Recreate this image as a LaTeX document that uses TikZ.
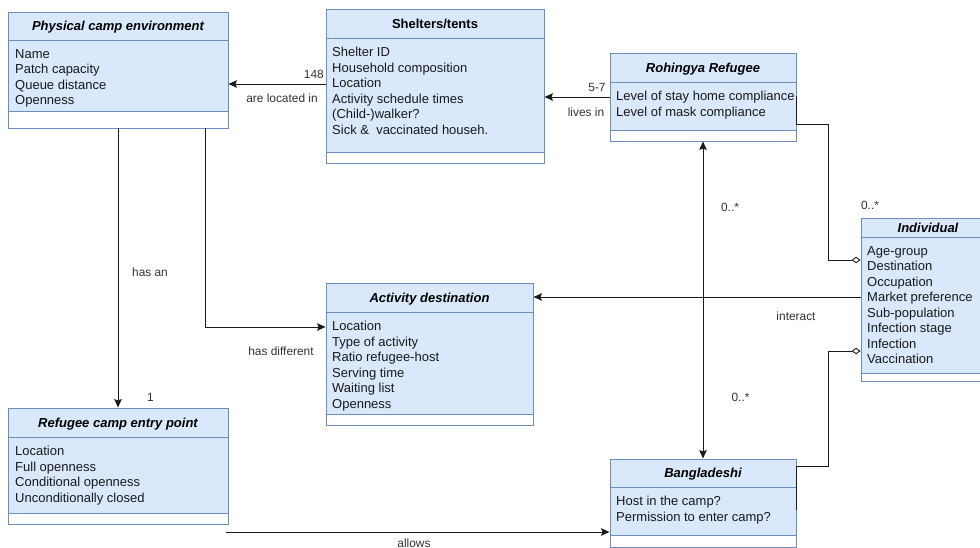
\documentclass[tikz,border=0pt]{standalone}
\usepackage{fontspec}
\setmainfont{Liberation Sans}
\usetikzlibrary{arrows.meta,fit}

\definecolor{classfill}{HTML}{DAE8FC}
\definecolor{classline}{HTML}{6C8EBF}
\definecolor{labelgray}{HTML}{333333}

\tikzset{
  frame/.style={draw=classline, line width=0.9pt},
  boxtitle/.style={anchor=base, inner sep=0pt, font=\fontsize{13}{15}\selectfont\bfseries\itshape},
  plaintitle/.style={anchor=base, inner sep=0pt, font=\fontsize{13}{15}\selectfont\bfseries},
  attr/.style={anchor=base west, inner sep=0pt, text=black!90, font=\fontsize{13}{15}\selectfont},
  elabel/.style={inner sep=0pt, text=labelgray, font=\fontsize{11.9}{13}\selectfont},
  conn/.style={draw=black!90, line width=0.9pt},
  assoc/.style={conn, -{Stealth[length=8.5pt,width=7.5pt,inset=1.5pt]}},
  bothways/.style={conn, {Stealth[length=8.5pt,width=7.5pt,inset=1.5pt]}-{Stealth[length=8.5pt,width=7.5pt,inset=1.5pt]}},
  aggr/.style={conn, -{Diamond[fill=white,length=9pt,width=6.5pt]}},
}

% UML class box: name, x1, y1, x2, header bottom, attributes bottom, y2, title style, title
\newcommand\classbox[9]{%
  \fill[classfill] (#2,#3) rectangle (#4,#6);
  \fill[white] (#2,#6) rectangle (#4,#7);
  \draw[frame] (#2,#5) -- (#4,#5) (#2,#6) -- (#4,#6);
  \node[frame, fit={(#2,#3)(#4,#7)}, inner sep=0pt] (#1) {};
  \node[#8] at ({(#2+#4)/2},{(#3+#5)/2+4.7}) {#9};
}
% attribute lines: x, first baseline, list
\newcommand\attrlines[3]{%
  \foreach \t [count=\i from 0] in {#3} {\node[attr] at (#1,{#2+\i*15.45}) {\t};}%
}

\begin{document}
\begin{tikzpicture}[x=1pt,y=-1pt]
\useasboundingbox (0,0) rectangle (980,548);
\clip (0,0) rectangle (980,548);
\fill[white] (0,0) rectangle (980,548);

% classes
\classbox{phys}{8}{12}{228}{40}{111}{128}{boxtitle}{Physical camp environment}
\attrlines{15}{58.3}{Name, Patch capacity, Queue distance, Openness}

\classbox{shel}{326}{9}{544}{38}{152}{163}{plaintitle}{Shelters/tents}
\attrlines{332}{56.8}{Shelter ID, Household composition, Location, Activity schedule times, {(Child-)walker?}, {Sick \&~ vaccinated househ.}}

\classbox{rohi}{610}{53}{796}{82}{130}{141}{boxtitle}{Rohingya Refugee}
\begin{scope}
  \clip (611,83) rectangle (793.5,129);
  \attrlines{616}{100.8}{Level of stay home compliance, Level of mask compliance}
\end{scope}

\classbox{indiv}{861}{218}{995}{237}{373}{381}{boxtitle}{Individual}
\attrlines{867}{255.3}{Age-group, Destination, Occupation, Market preference, Sub-population, Infection stage, Infection, Vaccination}

\classbox{act}{326}{283}{533}{312}{414}{425}{boxtitle}{Activity destination}
\attrlines{332}{330.8}{Location, Type of activity, Ratio refugee-host, Serving time, Waiting list, Openness}

\classbox{entry}{8}{408}{228}{437}{513}{524}{boxtitle}{Refugee camp entry point}
\attrlines{15}{455.8}{Location, Full openness, Conditional openness, Unconditionally closed}

\classbox{bang}{610}{459}{796}{487}{535}{547}{boxtitle}{Bangladeshi}
\attrlines{616}{505.8}{Host in the camp?, Permission to enter camp?}

% connectors
\draw[assoc] (shel.west |- 0,84) -- (phys.east |- 0,84);
\node[elabel, anchor=east] at (324,74.5) {148};
\node[elabel] at (282,98) {are located in};

\draw[assoc] (rohi.west |- 0,97) -- (shel.east |- 0,97);
\node[elabel] at (597,87) {5-7};
\node[elabel] at (586,112) {lives in};

\draw[assoc] (phys.south -| 118,0) -- (entry.north -| 118,0);
\node[elabel] at (150,272) {has an};
\node[elabel] at (150.5,397) {1};

\draw[assoc] (phys.south -| 205,0) |- (act.west |- 0,327);
\node[elabel] at (281,351) {has different};

\draw[assoc] (indiv.west |- 0,297) -- (act.east |- 0,297);
\node[elabel] at (796,316) {interact};

\draw[bothways] (rohi.south -| 703,0) -- (bang.north -| 703,0);
\node[elabel] at (730,207) {0..*};
\node[elabel] at (740.5,397) {0..*};

\coordinate (rbend) at (828,124);
\draw[aggr] (rohi.east |- 0,96) -- (rohi.east |- rbend) -- (rbend) |- (indiv.west |- 0,260);
\node[elabel] at (870,205) {0..*};

\coordinate (bbend) at (828,466);
\draw[aggr] (bang.east |- 0,510) -- (bang.east |- bbend) -- (bbend) |- (indiv.west |- 0,351);

\coordinate (allowstart) at (226,532);
\draw[assoc] (allowstart) -- (bang.west |- allowstart);
\node[elabel] at (414,543) {allows};
\end{tikzpicture}
\end{document}
